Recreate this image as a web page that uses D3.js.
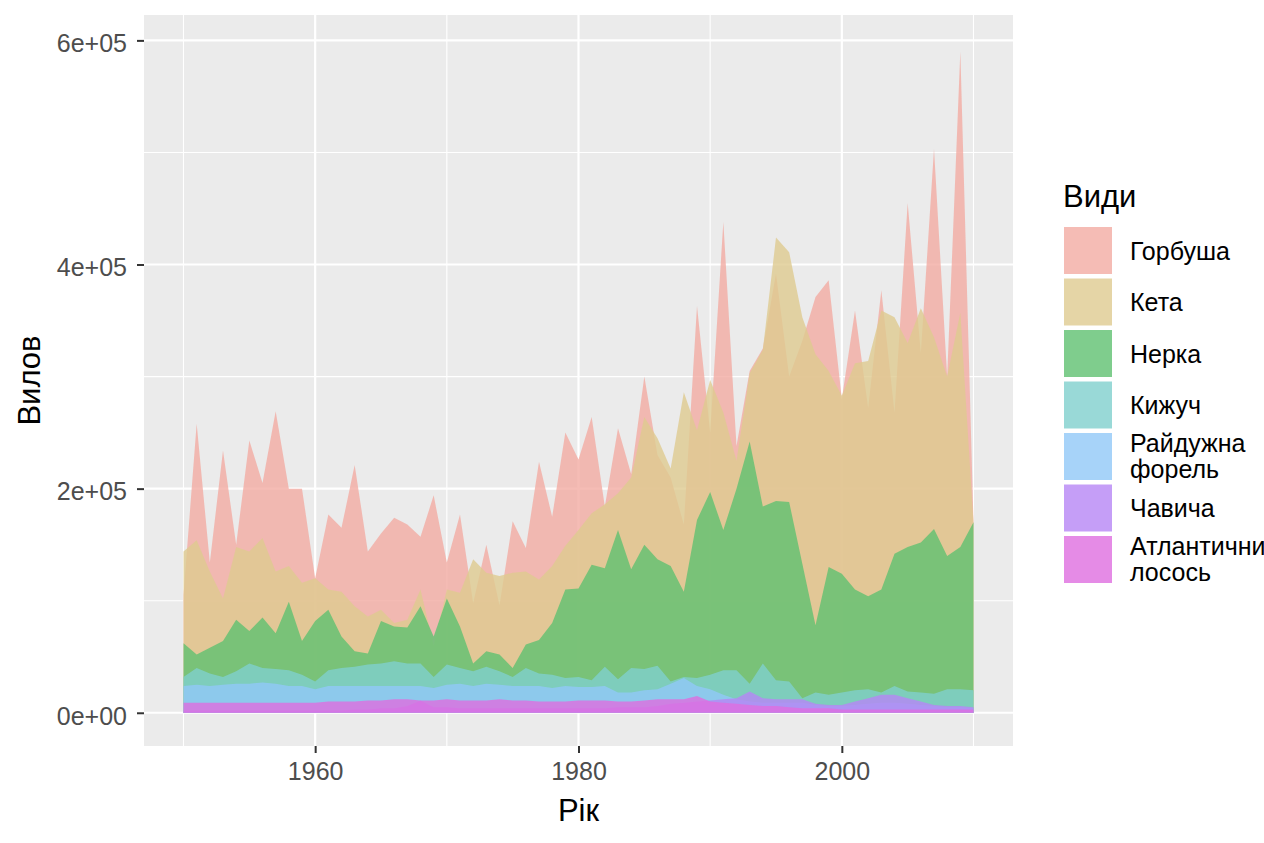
<!DOCTYPE html>
<html>
<head>
<meta charset="utf-8">
<script src="https://cdn.jsdelivr.net/npm/d3@7"></script>
<style>
  body { margin: 0; background: #fff; }
  text { font-family: "Liberation Sans", Arial, sans-serif; }
</style>
</head>
<body>
<svg id="chart" width="1264" height="843"></svg>
<script>
// роки
var years = [1950,1951,1952,1953,1954,1955,1956,1957,1958,1959,
             1960,1961,1962,1963,1964,1965,1966,1967,1968,1969,
             1970,1971,1972,1973,1974,1975,1976,1977,1978,1979,
             1980,1981,1982,1983,1984,1985,1986,1987,1988,1989,
             1990,1991,1992,1993,1994,1995,1996,1997,1998,1999,
             2000,2001,2002,2003,2004,2005,2006,2007,2008,2009,2010]

var species = ['Горбуша', 'Кета', 'Нерка', 'Кижуч', 'Райдужна форель', 'Чавича', 'Атлантичний лосось']

// вилов, тис.
var gorbusha = [105,258,134,234,150,243,205,269,200,200,
                120,177,165,221,144,160,174,168,157,194,
                134,177,98,150,96,171,147,224,175,250,
                226,264,184,254,213,300,230,210,168,363,
                250,438,238,305,325,392,300,332,371,386,
                280,359,272,377,268,455,321,503,300,590,170]
var keta = [144,154,126,102,148,144,156,126,131,116,
            120,110,108,95,86,92,80,83,110,60,
            110,107,137,125,122,125,126,119,131,149,
            163,178,186,196,210,264,245,218,286,252,
            297,268,225,303,324,424,411,353,320,305,
            283,312,314,359,353,330,361,335,300,357,170]
var nerka = [62,52,58,64,83,73,85,71,99,64,
             82,92,68,55,53,82,77,76,95,68,
             102,77,44,55,52,40,61,65,80,110,
             111,132,129,163,128,150,137,131,108,172,
             197,163,200,242,184,189,188,133,78,130,
             124,110,104,110,142,148,152,164,140,148,170]
var kyzhuch = [32,40,35,32,37,44,40,39,38,34,
               28,38,40,41,43,44,46,44,44,32,
               43,40,37,41,37,32,40,35,34,31,
               32,29,41,30,40,39,42,28,32,31,
               34,38,38,26,44,29,28,13,18,16,
               18,20,21,18,24,19,18,17,21,21,20]
var forel = [24,25,24,25,26,26,27,26,24,24,
             21,24,24,24,24,24,24,24,24,22,
             25,26,24,26,25,24,24,24,22,24,
             23,23,24,18,18,20,21,26,31,24,
             21,16,12,10,9,9,9,9,7,6,
             6,7,8,9,9,8,7,6,5,5,4]
var chavycha = [2,2,2,2,2,2,2,2,2,2,
                2,2,2,3,3,4,4,6,11,5,
                5,4,4,4,4,4,4,4,4,4,
                4,4,4,5,5,5,6,8,9,10,
                11,12,13,19,13,12,12,12,8,7,
                7,10,13,16,16,13,10,7,6,6,5]
var losos = [9,9,9,9,9,9,9,9,9,9,
             9,10,10,10,11,11,12,12,11,11,
             12,11,11,11,12,11,11,10,10,10,
             11,11,11,10,10,11,12,12,12,15,
             10,9,8,7,6,6,5,4,4,4,
             3,3,3,3,3,3,3,3,3,3,3]

var colors = ['#F3ABA2', '#DECA90', '#5FC070', '#80D0CD', '#91C8F8', '#B686F5', '#DE6EE0']

var xTicks = [1960, 1980, 2000]
var xMinor = [1950, 1970, 1990, 2010]
var yTicks = [0, 200000, 400000, 600000]
var yTickLabels = ['0e+00', '2e+05', '4e+05', '6e+05']
var yMinor = [100000, 300000, 500000]

var series = [gorbusha, keta, nerka, kyzhuch, forel, chavycha, losos]

var margin = {top: 15, right: 251, bottom: 97, left: 144},
    width = 1264 - margin.left - margin.right,
    height = 843 - margin.top - margin.bottom

var svg = d3.select('#chart')
var g = svg.append('g')
    .attr('transform', 'translate(' + margin.left + ',' + margin.top + ')')

var x = d3.scaleLinear()
    .domain([1947, 2013])
    .range([0, width])

var y = d3.scaleLinear()
    .domain([-29650, 622650])
    .range([height, 0])

// панель
g.append('rect')
    .attr('width', width)
    .attr('height', height)
    .attr('fill', '#EBEBEB')

// сітка
g.selectAll('.yminor').data(yMinor).enter().append('line')
    .attr('x1', 0).attr('x2', width)
    .attr('y1', d => y(d)).attr('y2', d => y(d))
    .attr('stroke', '#fff').attr('stroke-width', 1.1)
g.selectAll('.xminor').data(xMinor).enter().append('line')
    .attr('y1', 0).attr('y2', height)
    .attr('x1', d => x(d)).attr('x2', d => x(d))
    .attr('stroke', '#fff').attr('stroke-width', 1.1)
g.selectAll('.ymajor').data(yTicks).enter().append('line')
    .attr('x1', 0).attr('x2', width)
    .attr('y1', d => y(d)).attr('y2', d => y(d))
    .attr('stroke', '#fff').attr('stroke-width', 2.2)
g.selectAll('.xmajor').data(xTicks).enter().append('line')
    .attr('y1', 0).attr('y2', height)
    .attr('x1', d => x(d)).attr('x2', d => x(d))
    .attr('stroke', '#fff').attr('stroke-width', 2.2)

// області (накладаються, не стек)
var area = d3.area()
    .x((d, i) => x(years[i]))
    .y0(y(0))
    .y1(d => y(d * 1000))

g.selectAll('.area')
    .data(series)
    .enter()
    .append('path')
    .attr('d', d => area(d))
    .attr('fill', (d, i) => colors[i])
    .attr('fill-opacity', 0.8)

// осі
var xAxis = g.append('g')
    .attr('transform', 'translate(0,' + height + ')')
    .call(d3.axisBottom(x).tickValues(xTicks).tickFormat(d3.format('d')).tickSize(7).tickPadding(9))
xAxis.select('.domain').remove()

var yAxis = g.append('g')
    .call(d3.axisLeft(y).tickValues(yTicks).tickFormat((d, i) => yTickLabels[i]).tickSize(7).tickPadding(10))
yAxis.select('.domain').remove()
yAxis.selectAll('.tick text').attr('dy', '0.45em')

svg.selectAll('.tick line').attr('stroke', '#333').attr('stroke-width', 2)
svg.selectAll('.tick text')
    .attr('fill', '#4D4D4D')
    .style('font-size', '25px')
    .style('font-family', '"Liberation Sans", Arial, sans-serif')

// назви осей
svg.append('text')
    .attr('x', margin.left + width / 2)
    .attr('y', 821)
    .attr('text-anchor', 'middle')
    .style('font-size', '31px')
    .text('Рік')

svg.append('text')
    .attr('transform', 'translate(40,' + (margin.top + height / 2) + ') rotate(-90)')
    .attr('text-anchor', 'middle')
    .style('font-size', '31px')
    .text('Вилов')

// легенда
var legend = svg.append('g').attr('transform', 'translate(1063,0)')

legend.append('text')
    .attr('x', 0)
    .attr('y', 207)
    .style('font-size', '31px')
    .text('Види')

var item = legend.selectAll('.item')
    .data(species)
    .enter()
    .append('g')
    .attr('transform', (d, i) => 'translate(0,' + (227 + i * 51.5) + ')')

item.append('rect')
    .attr('x', 1)
    .attr('width', 48)
    .attr('height', 47)
    .attr('fill', (d, i) => colors[i])
    .attr('fill-opacity', 0.8)

item.each(function(d) {
    var words = d.split(' ')
    var t = d3.select(this).append('text')
        .attr('x', 67)
        .style('font-size', '25px')
    if (words.length == 1) {
        t.attr('y', 23.5 + 9).text(d)
    } else {
        t.append('tspan').attr('x', 67).attr('y', 23.5 - 5).text(words[0])
        t.append('tspan').attr('x', 67).attr('y', 23.5 + 21.5).text(words[1])
    }
})
</script>
</body>
</html>
